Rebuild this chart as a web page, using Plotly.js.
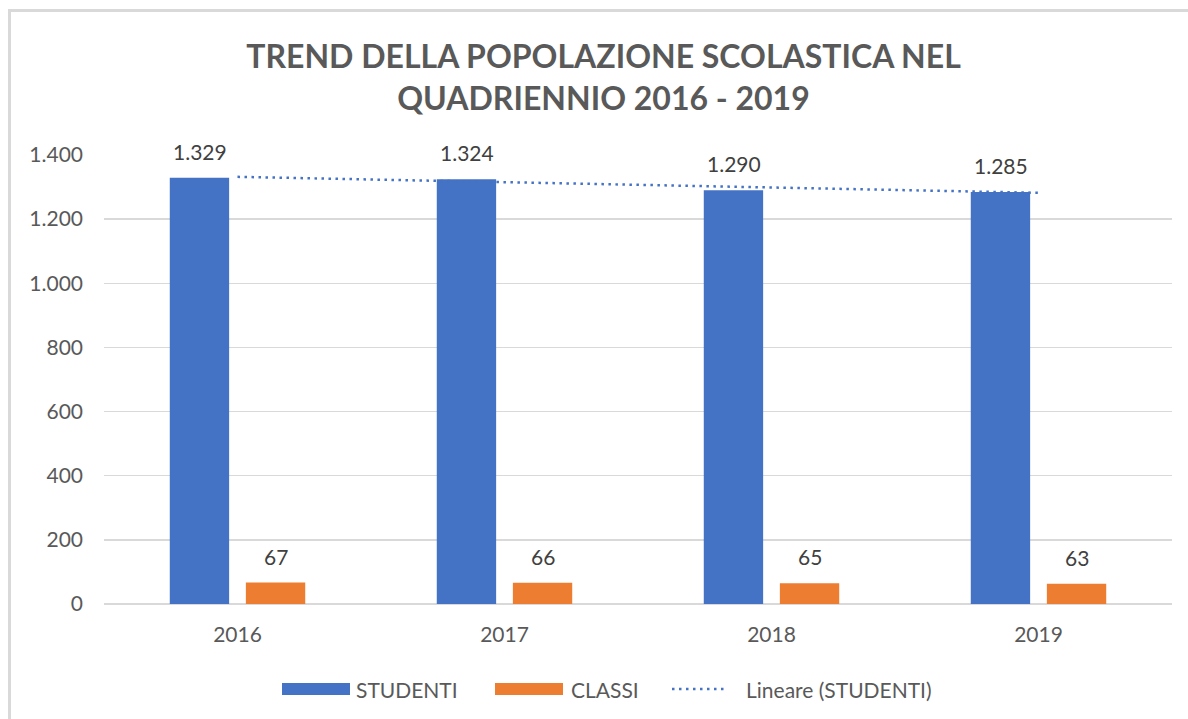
<!DOCTYPE html>
<html>
<head>
<meta charset="utf-8">
<script src="https://cdn.plot.ly/plotly-3.0.1.min.js"></script>
<style>
  html, body { margin: 0; padding: 0; background: #ffffff; }
  #wrap { position: relative; width: 1188px; height: 719px; overflow: hidden; }
  #chart { width: 1188px; height: 719px; }
  #frame { position: absolute; left: 8px; top: 9px; width: 1300px; height: 800px;
           border-left: 3px solid #d9d9d9; border-top: 3px solid #d9d9d9; pointer-events: none; }
</style>
</head>
<body>
<div id="wrap">
  <div id="chart"></div>
  <div id="frame"></div>
</div>
<script>
// ---- data ----
const years = ['2016', '2017', '2018', '2019'];
const studenti = [1329, 1324, 1290, 1285];
const classi = [67, 66, 65, 63];
const seriesNames = ['STUDENTI', 'CLASSI', 'Lineare (STUDENTI)'];
const yTicks = [0, 200, 400, 600, 800, 1000, 1200, 1400];

// linear trend of STUDENTI (least squares, as the spreadsheet trendline)
const n = studenti.length;
const xs = studenti.map((_, i) => i + 1);
const mx = xs.reduce((a, b) => a + b, 0) / n;
const my = studenti.reduce((a, b) => a + b, 0) / n;
let sxy = 0, sxx = 0;
for (let i = 0; i < n; i++) { sxy += (xs[i] - mx) * (studenti[i] - my); sxx += (xs[i] - mx) ** 2; }
const slope = sxy / sxx;
const trend = xs.map(x => my + slope * (x - mx));

const BLUE = '#4472C4', ORANGE = '#ED7D31';
const TXT = '#595959';
const FONT = 'Lato, "Open Sans", sans-serif';
const FS = 21;

const traces = [
  { type: 'bar', name: seriesNames[0], x: years, y: studenti, marker: { color: BLUE }, showlegend: false, hoverinfo: 'skip' },
  { type: 'bar', name: seriesNames[1], x: years, y: classi, marker: { color: ORANGE }, showlegend: false, hoverinfo: 'skip' },
  { type: 'scatter', mode: 'lines', name: seriesNames[2], x: years, y: trend,
    line: { color: BLUE, width: 2.5, dash: '2.5px,4.5px' }, showlegend: false, hoverinfo: 'skip' }
];

const annotations = [];
function lbl(v) { return String(v).replace(/\B(?=(\d{3})+(?!\d))/g, '.'); }
years.forEach((yr, i) => {
  annotations.push({ x: i, y: studenti[i], xref: 'x', yref: 'y', text: lbl(studenti[i]), showarrow: false,
    xshift: -38, yshift: 12, yanchor: 'bottom', font: { family: FONT, size: FS, color: '#404040' } });
  annotations.push({ x: i, y: classi[i], xref: 'x', yref: 'y', text: lbl(classi[i]), showarrow: false,
    xshift: 38, yshift: 12, yanchor: 'bottom', font: { family: FONT, size: FS, color: '#404040' } });
});

// legend (custom, spreadsheet style)
const L = 104, W = 1068, B = 604, H = 449;
const px = x => (x - L) / W;
const py = y => (B - y) / H;
const shapes = [
  { type: 'rect', xref: 'paper', yref: 'paper', x0: px(282), x1: px(350), y0: py(695), y1: py(683), fillcolor: BLUE, line: { width: 0 } },
  { type: 'rect', xref: 'paper', yref: 'paper', x0: px(495), x1: px(563), y0: py(695), y1: py(683), fillcolor: ORANGE, line: { width: 0 } },
  { type: 'line', xref: 'paper', yref: 'paper', x0: px(672), x1: px(727), y0: py(689), y1: py(689), line: { color: BLUE, width: 2.5, dash: '2.5px,4.5px' } }
];
const legX = [354, 569, 744];
seriesNames.forEach((s, i) => {
  annotations.push({ xref: 'paper', yref: 'paper', x: px(legX[i]), y: py(689), xanchor: 'left', yanchor: 'middle',
    text: s, showarrow: false, font: { family: FONT, size: FS, color: TXT } });
});

const layout = {
  width: 1188, height: 719,
  paper_bgcolor: '#ffffff', plot_bgcolor: '#ffffff',
  margin: { l: 104, r: 16, t: 155, b: 115 },
  separators: ',.',
  title: { text: 'TREND DELLA POPOLAZIONE SCOLASTICA NEL<br>QUADRIENNIO 2016 - 2019',
    x: 0.508, xanchor: 'center', y: 0.9055, yanchor: 'top', yref: 'container',
    font: { family: FONT, size: 32, color: TXT, weight: 700 } },
  barmode: 'group', bargap: 0.43, bargroupgap: 0.22,
  xaxis: { type: 'category', range: [-0.5, 3.5], showgrid: false, zeroline: false, showline: false, ticks: '',
    tickfont: { family: FONT, size: FS, color: TXT }, ticklabelstandoff: 16, fixedrange: true },
  yaxis: { range: [0, 1400], tickvals: yTicks, tickformat: ',d', showgrid: true, gridcolor: '#d9d9d9', gridwidth: 1.5,
    zeroline: true, zerolinecolor: '#d9d9d9', zerolinewidth: 1.5, showline: false, ticks: '',
    tickfont: { family: FONT, size: FS, color: TXT }, ticklabelstandoff: 20, fixedrange: true },
  shapes: shapes,
  annotations: annotations,
  showlegend: false
};

Plotly.newPlot('chart', traces, layout, { displayModeBar: false, staticPlot: true });
</script>
</body>
</html>
